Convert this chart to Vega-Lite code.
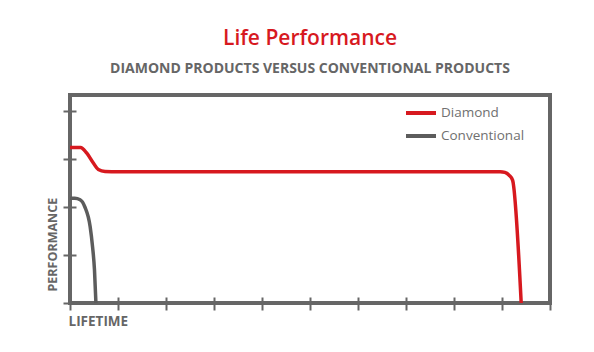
{
  "$schema": "https://vega.github.io/schema/vega-lite/v6.json",
  "autosize": {"type": "none"},
  "padding": {"left": 70, "top": 95, "right": 44, "bottom": 49},
  "width": 480,
  "height": 208,
  "background": "white",
  "config": {
    "font": "Open Sans",
    "view": {"stroke": "#666666", "strokeWidth": 4, "fill": "white"}
  },
  "title": {
    "text": "Life Performance",
    "subtitle": "DIAMOND PRODUCTS VERSUS CONVENTIONAL PRODUCTS",
    "anchor": "middle",
    "frame": "group",
    "color": "#d7191f",
    "fontSize": 21,
    "fontWeight": 600,
    "font": "Open Sans",
    "subtitleColor": "#666666",
    "subtitleFontSize": 14,
    "subtitleFontWeight": "bold",
    "subtitleFont": "Open Sans",
    "subtitlePadding": 13,
    "offset": 19
  },
  "data": {
    "values": [
      {"x": 0, "y": 3.24, "series": "Diamond"},
      {"x": 0.22, "y": 3.24, "series": "Diamond"},
      {"x": 0.35, "y": 3.12, "series": "Diamond"},
      {"x": 0.49, "y": 2.91, "series": "Diamond"},
      {"x": 0.59, "y": 2.78, "series": "Diamond"},
      {"x": 0.73, "y": 2.74, "series": "Diamond"},
      {"x": 1.0, "y": 2.735, "series": "Diamond"},
      {"x": 5.0, "y": 2.735, "series": "Diamond"},
      {"x": 8.96, "y": 2.735, "series": "Diamond"},
      {"x": 9.06, "y": 2.72, "series": "Diamond"},
      {"x": 9.15, "y": 2.66, "series": "Diamond"},
      {"x": 9.22, "y": 2.56, "series": "Diamond"},
      {"x": 9.4, "y": 0, "series": "Diamond"},
      {"x": 0, "y": 2.18, "series": "Conventional"},
      {"x": 0.1, "y": 2.18, "series": "Conventional"},
      {"x": 0.21, "y": 2.15, "series": "Conventional"},
      {"x": 0.31, "y": 2.0, "series": "Conventional"},
      {"x": 0.42, "y": 1.59, "series": "Conventional"},
      {"x": 0.47, "y": 1.17, "series": "Conventional"},
      {"x": 0.51, "y": 0.69, "series": "Conventional"},
      {"x": 0.54, "y": 0, "series": "Conventional"}
    ]
  },
  "mark": {"type": "line", "strokeWidth": 3.5, "interpolate": "monotone", "clip": true},
  "encoding": {
    "x": {
      "field": "x",
      "type": "quantitative",
      "scale": {"domain": [0, 10], "nice": false, "zero": false},
      "axis": {
        "title": "LIFETIME",
        "values": [0, 1, 2, 3, 4, 5, 6, 7, 8, 9, 10],
        "labels": false,
        "domain": false,
        "grid": false,
        "offset": -6,
        "tickSize": 13,
        "tickWidth": 2,
        "tickColor": "#666666",
        "titleAnchor": "start",
        "titleAlign": "left",
        "titleX": -2,
        "titleFontSize": 13.5,
        "titleFontWeight": "bold",
        "titleColor": "#666666",
        "titlePadding": 3
      }
    },
    "y": {
      "field": "y",
      "type": "quantitative",
      "scale": {"domain": [0, 4.3333], "nice": false, "zero": false},
      "axis": {
        "title": "PERFORMANCE",
        "values": [0, 1, 2, 3, 4],
        "labels": false,
        "domain": false,
        "grid": false,
        "offset": -6,
        "tickSize": 13,
        "tickWidth": 2,
        "tickColor": "#666666",
        "titleAnchor": "start",
        "titleY": 196,
        "titleFontSize": 12.5,
        "titleFontWeight": "bold",
        "titleColor": "#666666",
        "titlePadding": 3
      }
    },
    "color": {
      "field": "series",
      "type": "nominal",
      "sort": ["Diamond", "Conventional"],
      "scale": {"domain": ["Diamond", "Conventional"], "range": ["#d7191f", "#5c5c5c"]},
      "legend": {
        "title": null,
        "orient": "none",
        "legendX": 339,
        "legendY": 6,
        "symbolType": "M-1.5,0H1.5",
        "symbolSize": 400,
        "symbolStrokeWidth": 4,
        "labelFontSize": 13.5,
        "labelColor": "#707070",
        "labelFont": "Open Sans",
        "labelOffset": 8,
        "rowPadding": 3,
        "padding": 0
      }
    }
  }
}
